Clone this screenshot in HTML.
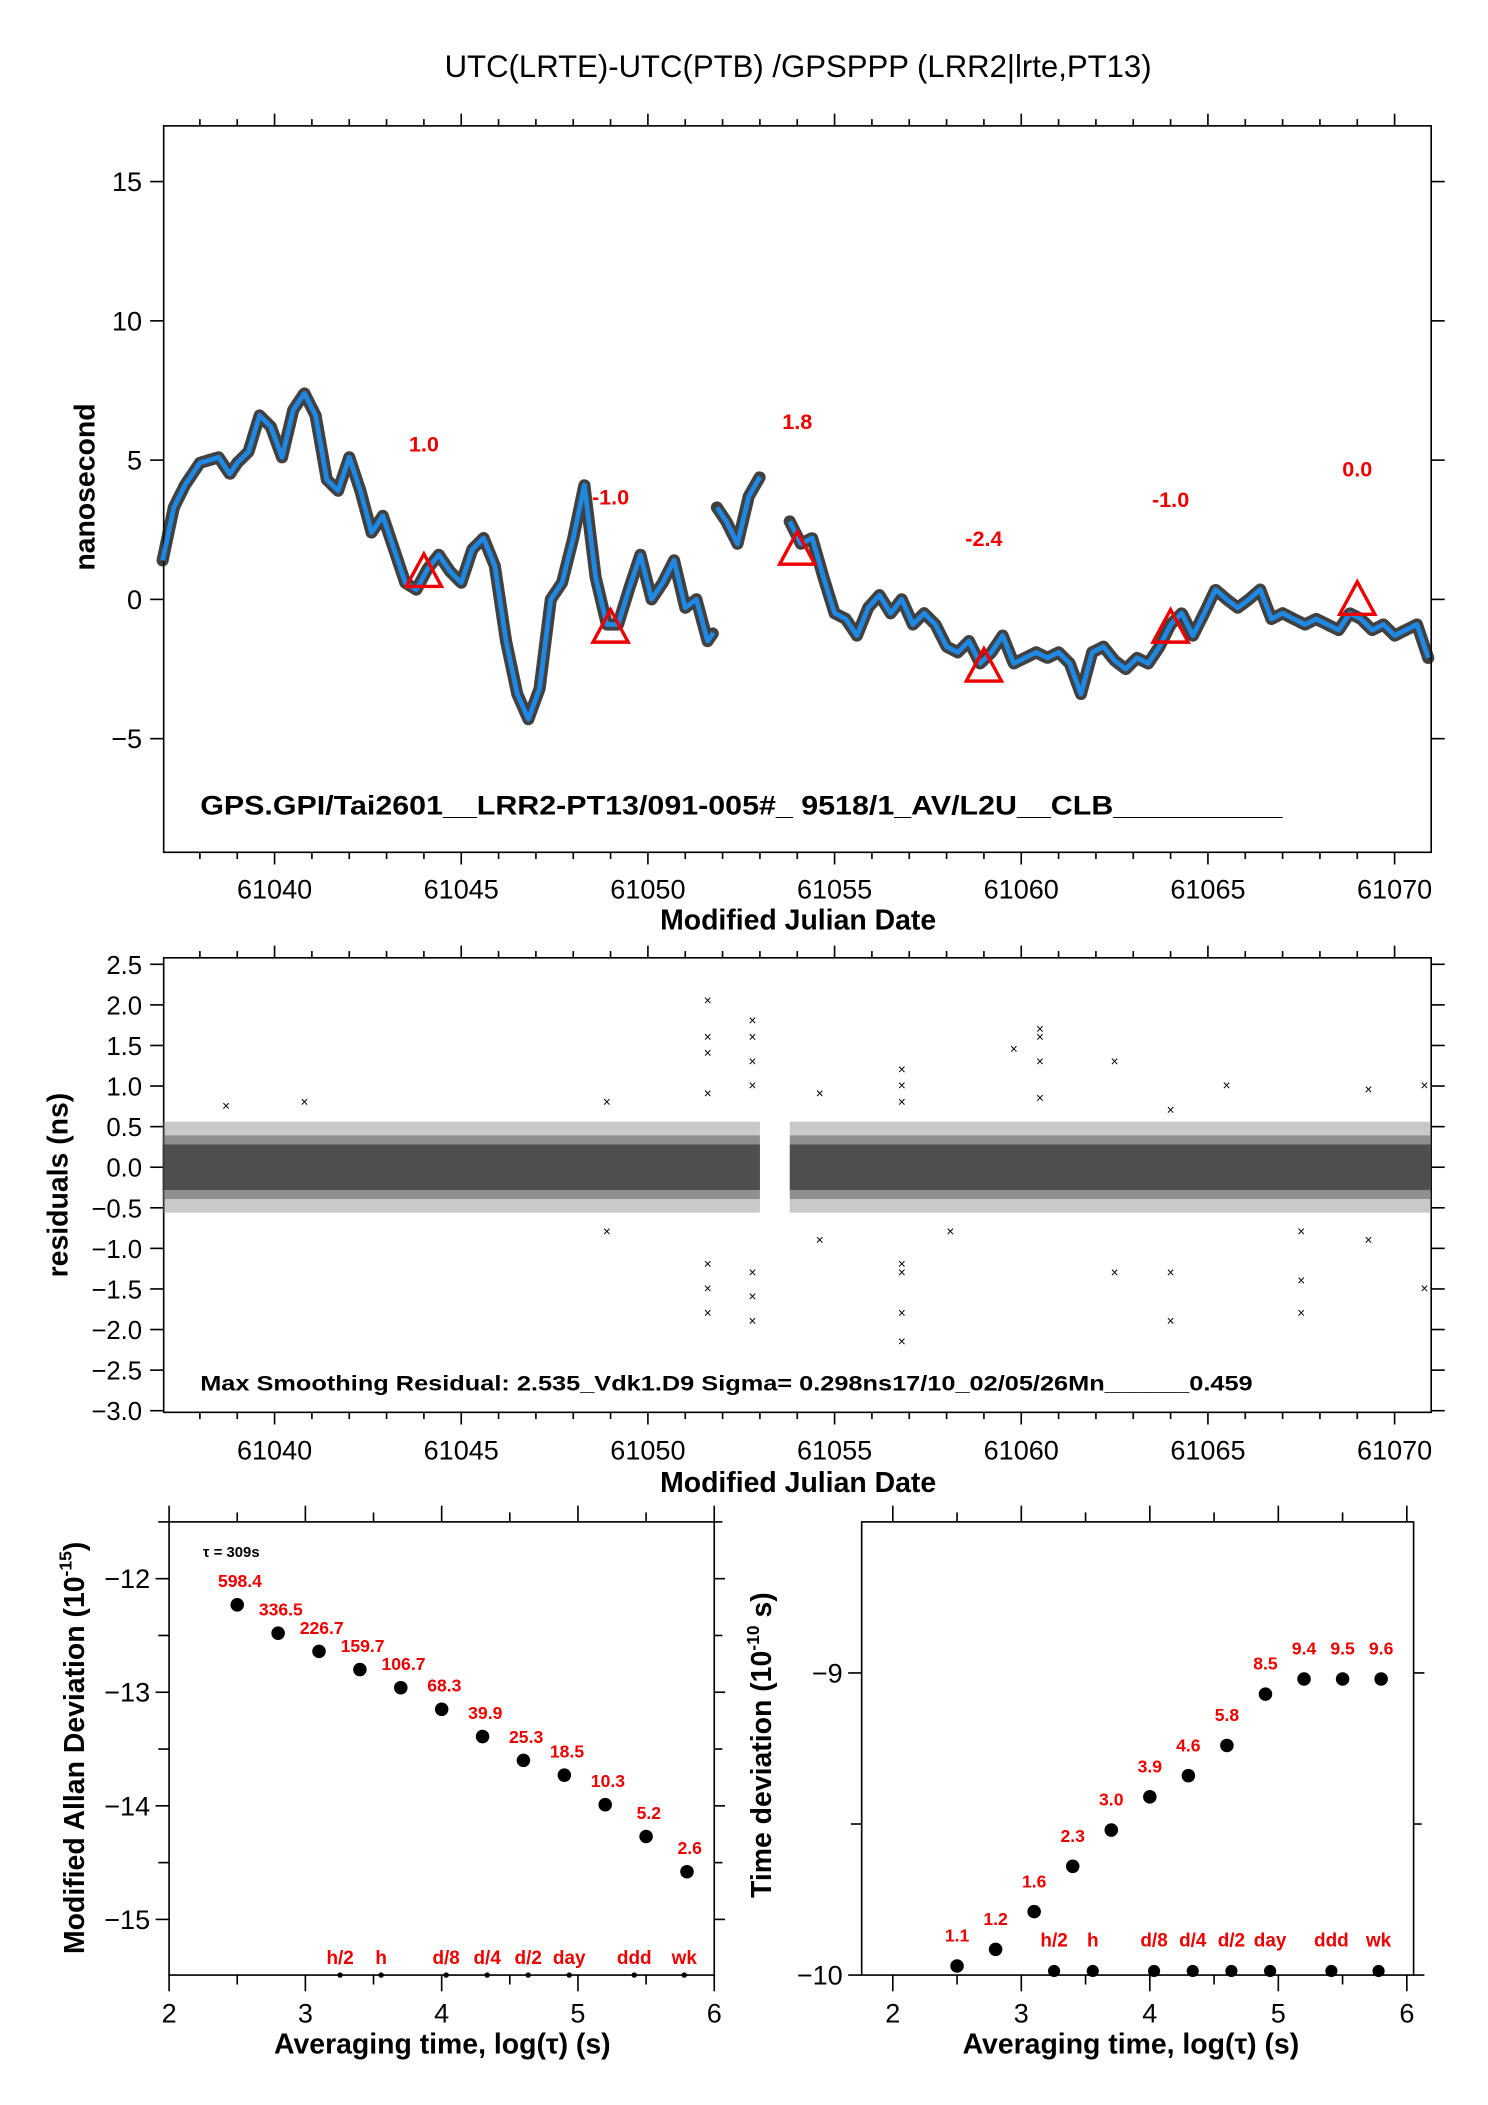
<!DOCTYPE html>
<html><head><meta charset="utf-8">
<style>
html,body{margin:0;padding:0;background:#fff;}
svg{display:block;font-family:"Liberation Sans",sans-serif;}
</style></head>
<body>
<svg id="chart" xmlns="http://www.w3.org/2000/svg" width="1488" height="2105" viewBox="0 0 1100 1556">
<rect x="0" y="0" width="1100" height="1556" fill="#fff"/>
<text x="590" y="57" font-size="23" text-anchor="middle">UTC(LRTE)-UTC(PTB)  /GPSPPP  (LRR2|lrte,PT13)</text>
<g id="g"></g>
</svg>
<script>
// ---------- data ----------
const smoothDays = [61037.0,61037.3,61037.6,61038.0,61038.5,61038.8,61039.0,61039.3,61039.6,61039.9,61040.2,61040.5,61040.8,61041.1,61041.4,61041.7,61042.0,61042.3,61042.6,61042.9,61043.2,61043.5,61043.8,61044.1,61044.4,61044.7,61045.0,61045.3,61045.6,61045.9,61046.2,61046.5,61046.8,61047.1,61047.4,61047.7,61048.0,61048.3,61048.6,61048.9,61049.2,61049.5,61049.8,61050.1,61050.4,61050.7,61051.0,61051.3,61051.6,61051.75,null,61051.85,61052.1,61052.4,61052.7,61053.0,null,61053.8,61054.1,61054.4,61054.7,61055.0,61055.3,61055.6,61055.9,61056.2,61056.5,61056.8,61057.1,61057.4,61057.7,61058.0,61058.3,61058.6,61058.9,61059.2,61059.5,61059.8,61060.1,61060.4,61060.7,61061.0,61061.3,61061.6,61061.9,61062.2,61062.5,61062.8,61063.1,61063.4,61063.7,61064.0,61064.3,61064.6,61064.9,61065.2,61065.5,61065.8,61066.1,61066.4,61066.7,61067.0,61067.3,61067.6,61067.9,61068.2,61068.5,61068.8,61069.1,61069.4,61069.7,61070.0,61070.3,61070.6,61070.9];
const smoothValues = [1.4,3.3,4.1,4.9,5.1,4.5,4.9,5.3,6.6,6.2,5.1,6.8,7.4,6.6,4.3,3.9,5.1,3.9,2.4,3.0,1.8,0.6,0.35,1.1,1.6,1.0,0.6,1.8,2.2,1.2,-1.5,-3.4,-4.3,-3.2,0.0,0.6,2.2,4.1,0.8,-0.9,-0.9,0.4,1.6,0.0,0.6,1.4,-0.3,0.0,-1.5,-1.2,null,3.3,2.8,2.0,3.7,4.4,null,2.8,2.0,2.2,0.8,-0.5,-0.7,-1.3,-0.3,0.15,-0.5,0.0,-0.9,-0.5,-0.9,-1.7,-1.9,-1.5,-2.3,-1.9,-1.3,-2.3,-2.1,-1.9,-2.1,-1.9,-2.3,-3.4,-1.9,-1.7,-2.2,-2.5,-2.1,-2.3,-1.7,-0.9,-0.5,-1.3,-0.5,0.35,0.0,-0.3,0.0,0.35,-0.7,-0.5,-0.7,-0.9,-0.7,-0.9,-1.1,-0.5,-0.7,-1.1,-0.9,-1.3,-1.1,-0.9,-2.1];
const triDays = [61044,61049,61054,61059,61064,61069];
const triValues = [1.0,-1.0,1.8,-2.4,-1.0,0.0];
const triLabels = ["1.0","-1.0","1.8","-2.4","-1.0","0.0"];
const triLabelY = [5.6,3.7,6.4,2.2,3.6,4.7];
const xTicksMJD = [61040,61045,61050,61055,61060,61065,61070];
const yTicksTop = [15,10,5,0,-5];
const yTicksResid = [2.5,2.0,1.5,1.0,0.5,0.0,-0.5,-1.0,-1.5,-2.0,-2.5,-3.0];
const residSegStart = [61037.0,61053.8];
const residSegEnd = [61053.0,61071.0];
const residBand = 0.28;
const outlierDays = [61051.6,61051.6,61051.6,61051.6,61051.6,61051.6,61052.8,61052.8,61052.8,61052.8,61052.8,61052.8,61056.8,61056.8,61056.8,61056.8,61056.8,61056.8,61060.5,61060.5,61060.5,61059.8,61062.5,61062.5,61064.0,61064.0,61067.5,61067.5,61070.8,61070.8,61048.9,61048.9,61054.6,61054.6,61058.1,61065.5,61069.3,61038.7,61040.8,61051.6,61052.8,61056.8,61060.5,61064.0,61067.5,61069.3];
const outlierValues = [2.05,1.6,1.4,-1.5,-1.8,-1.2,1.8,1.6,1.3,-1.3,-1.9,-1.6,1.2,1.0,-1.2,-1.3,-1.8,-2.15,1.7,1.6,1.3,1.45,1.3,-1.3,-1.3,-1.9,-1.4,-1.8,1.0,-1.5,0.8,-0.8,0.9,-0.9,-0.8,1.0,0.95,0.75,0.8,0.9,1.0,0.8,0.85,0.7,-0.8,-0.9];
const tauLog = [2.5,2.8,3.1,3.4,3.7,4.0,4.3,4.6,4.9,5.2,5.5,5.8];
const madevValues = [-12.23,-12.48,-12.64,-12.80,-12.96,-13.15,-13.39,-13.60,-13.73,-13.99,-14.27,-14.58];
const madevLabels = ["598.4","336.5","226.7","159.7","106.7","68.3","39.9","25.3","18.5","10.3","5.2","2.6"];
const tdevValues = [-9.97,-9.915,-9.79,-9.64,-9.52,-9.41,-9.34,-9.24,-9.07,-9.02,-9.02,-9.02];
const tdevLabels = ["1.1","1.2","1.6","2.3","3.0","3.9","4.6","5.8","8.5","9.4","9.5","9.6"];
const markerLog = [3.255,3.556,4.033,4.334,4.635,4.936,5.413,5.78];
const markerLabels = ["h/2","h","d/8","d/4","d/2","day","ddd","wk"];
const logTicks = [2,3,4,5,6];
const madevTicks = [-12,-13,-14,-15];
const tdevTicks = [-9,-10];

// ---------- helpers ----------
const NS="http://www.w3.org/2000/svg";
const G=document.getElementById('g');
function el(tag,attrs,parent){const e=document.createElementNS(NS,tag);for(const k in attrs)e.setAttribute(k,attrs[k]);(parent||G).appendChild(e);return e;}
function txt(s,attrs,parent){const e=el('text',attrs,parent);e.textContent=s;return e;}
function lin(d0,d1,r0,r1){return v=>r0+(v-d0)/(d1-d0)*(r1-r0);}

// ---------- top plot ----------
const P1={l:121,r:1058,t:93,b:630};
const X1=lin(61037.03,61070.98,P1.l,P1.r), Y1=lin(-9.08,17.0,P1.b,P1.t);
function frame(P,name){const r=el('rect',{x:P.l,y:P.t,width:P.r-P.l,height:P.b-P.t,fill:'none',stroke:'#000','stroke-width':1.2});}
function mjdTicks(P,X,yLab){
  for(let d=61037;d<=61071;d++){const x=X(d);if(x<P.l-0.5||x>P.r+0.5)continue;const L=(d%5===0)?9:5;
    el('line',{x1:x,y1:P.b,x2:x,y2:P.b+L,stroke:'#000','stroke-width':1.2});
    el('line',{x1:x,y1:P.t,x2:x,y2:P.t-L,stroke:'#000','stroke-width':1.2});}
  xTicksMJD.forEach(d=>{const t=txt(String(d),{x:X(d),y:yLab,'font-size':20,'text-anchor':'middle'});});
}
frame(P1,'top-plot-frame');
mjdTicks(P1,X1,664);
yTicksTop.forEach(v=>{const y=Y1(v);el('line',{x1:P1.l-10,y1:y,x2:P1.l,y2:y,stroke:'#000','stroke-width':1.2});el('line',{x1:P1.r,y1:y,x2:P1.r+10,y2:y,stroke:'#000','stroke-width':1.2});
  const t=txt(v<0?'\u2212'+Math.abs(v):String(v),{x:P1.l-16,y:y+7,'font-size':20,'text-anchor':'end'});});
let t=txt('nanosecond',{x:0,y:0,'font-size':21,'font-weight':'bold','text-anchor':'middle',transform:'translate(70,360) rotate(-90)'});

t=txt('Modified Julian Date',{x:590,y:687,'font-size':21,'font-weight':'bold','text-anchor':'middle'});

let dpath='',pen=false;
smoothDays.forEach((d,i)=>{if(d===null||smoothValues[i]===null){pen=false;return;}dpath+=(pen?'L':'M')+X1(d).toFixed(1)+','+Y1(smoothValues[i]).toFixed(1);pen=true;});
let p=el('path',{d:dpath,fill:'none',stroke:'#111','stroke-width':9,'stroke-linejoin':'round','stroke-linecap':'round',opacity:0.8,'stroke-dasharray':'3 1'});

p=el('path',{d:dpath,fill:'none',stroke:'#1e88e5','stroke-width':3.5,'stroke-linejoin':'round'});

triDays.forEach((d,i)=>{const x=X1(d),y=Y1(triValues[i]);
  const tr=el('polygon',{points:`${x-13},${y+11} ${x+13},${y+11} ${x},${y-13}`,fill:'none',stroke:'#e00','stroke-width':2.5});
  
  const l=txt(triLabels[i],{x:x,y:Y1(triLabelY[i])+6,'font-size':16,'font-weight':'bold',fill:'#e00','text-anchor':'middle'});
  });
t=txt('GPS.GPI/Tai2601__LRR2-PT13/091-005#_  9518/1_AV/L2U__CLB__________',{x:148,y:602,'font-size':20,'font-weight':'bold',textLength:800,lengthAdjust:'spacingAndGlyphs'});


// ---------- residual plot ----------
const P2={l:121,r:1058,t:708,b:1044};
const Y2=lin(-3.02,2.58,P2.b,P2.t);
frame(P2,'residual-plot-frame');
mjdTicks(P2,X1,1079);
yTicksResid.forEach(v=>{const y=Y2(v);el('line',{x1:P2.l-10,y1:y,x2:P2.l,y2:y,stroke:'#000','stroke-width':1.2});el('line',{x1:P2.r,y1:y,x2:P2.r+10,y2:y,stroke:'#000','stroke-width':1.2});
  const s=(v<0?'\u2212':'')+Math.abs(v).toFixed(1);
  const tt=txt(s,{x:P2.l-16,y:y+7,'font-size':19,'text-anchor':'end'});});
t=txt('residuals (ns)',{x:0,y:0,'font-size':21,'font-weight':'bold','text-anchor':'middle',transform:'translate(50,876) rotate(-90)'});

t=txt('Modified Julian Date',{x:590,y:1103,'font-size':21,'font-weight':'bold','text-anchor':'middle'});

residSegStart.forEach((s,i)=>{const x0=X1(s),x1=Math.min(X1(residSegEnd[i]),P2.r);
  let r=el('rect',{x:x0,y:Y2(residBand*2),width:x1-x0,height:Y2(-residBand*2)-Y2(residBand*2),fill:'#777',opacity:0.4});
  
  r=el('rect',{x:x0,y:Y2(residBand*1.4),width:x1-x0,height:Y2(-residBand*1.4)-Y2(residBand*1.4),fill:'#555',opacity:0.5});
  
  r=el('rect',{x:x0,y:Y2(residBand),width:x1-x0,height:Y2(-residBand)-Y2(residBand),fill:'#333',opacity:0.7});
  });
outlierDays.forEach((d,i)=>{const x=X1(d),y=Y2(outlierValues[i]);
  const o=txt('\u00d7',{x:x,y:y+3,'font-size':10,'text-anchor':'middle'});});
t=txt('Max Smoothing Residual: 2.535_Vdk1.D9  Sigma= 0.298ns17/10_02/05/26Mn______0.459',{x:148,y:1028,'font-size':16,'font-weight':'bold',textLength:778,lengthAdjust:'spacingAndGlyphs'});


// ---------- stability plots ----------
function stabPlot(P,X,Y,yTicks,yMinor,vals,labels,name,labOff,markY,markLabY){
  frame(P,name+'-frame');
  for(let v=2;v<=6.001;v+=0.5){const x=X(v);if(x<P.l-1||x>P.r+1)continue;const L=(Math.abs(v-Math.round(v))<1e-6)?12:7;
    el('line',{x1:x,y1:P.b,x2:x,y2:P.b+L,stroke:'#000','stroke-width':1.2});el('line',{x1:x,y1:P.t,x2:x,y2:P.t-L,stroke:'#000','stroke-width':1.2});}
  logTicks.forEach(v=>{const tt=txt(String(v),{x:X(v),y:1495,'font-size':20,'text-anchor':'middle'});});
  yMinor.forEach(v=>{const y=Y(v);el('line',{x1:P.l-8,y1:y,x2:P.l,y2:y,stroke:'#000','stroke-width':1.2});el('line',{x1:P.r,y1:y,x2:P.r+6,y2:y,stroke:'#000','stroke-width':1.2});});
  yTicks.forEach(v=>{const y=Y(v);el('line',{x1:P.l-10,y1:y,x2:P.l,y2:y,stroke:'#000','stroke-width':1.2});el('line',{x1:P.r,y1:y,x2:P.r+8,y2:y,stroke:'#000','stroke-width':1.2});
    const tt=txt('\u2212'+Math.abs(v),{x:P.l-14,y:y+7,'font-size':20,'text-anchor':'end'});});
  tauLog.forEach((v,i)=>{const x=X(v),y=Y(vals[i]);
    const c=el('circle',{cx:x,cy:y,r:5,fill:'#000'});
    const l=txt(labels[i],{x:x+labOff[0],y:y+labOff[1],'font-size':13,'font-weight':'bold',fill:'#e00','text-anchor':'middle'});
    });
  markerLog.forEach((v,i)=>{const x=X(v);
    const c=el('circle',{cx:x,cy:markY,r:markY>1458?2:4.5,fill:'#000'});
    const l=txt(markerLabels[i],{x:x,y:markLabY,'font-size':14,'font-weight':'bold',fill:'#e00','text-anchor':'middle'});
    });
}
const PA={l:125,r:528,t:1125,b:1460};
const XA=lin(2,6,125,528), YA=lin(-15.49,-11.5,PA.b,PA.t);
stabPlot(PA,XA,YA,madevTicks,[-12.5,-13.5,-14.5,-11.5],madevValues,madevLabels,'madev',[2,-13],1460,1452);
t=txt('\u03c4 = 309s',{x:150,y:1151,'font-size':11,'font-weight':'bold'});

t=el('text',{x:0,y:0,'font-size':21,'font-weight':'bold','text-anchor':'middle',transform:'translate(62,1292) rotate(-90)'});

t.innerHTML='Modified Allan Deviation (10<tspan font-size="13" dy="-9">-15</tspan><tspan dy="9">)</tspan>';
t=txt('Averaging time, log(\u03c4) (s)',{x:327,y:1518,'font-size':21,'font-weight':'bold','text-anchor':'middle'});


const PT={l:637,r:1045,t:1125,b:1460};
const XT=lin(2,6,660,1040), YT=lin(-10,-8.5,PT.b,PT.t);
stabPlot(PT,XT,YT,tdevTicks,[-9.5],tdevValues,tdevLabels,'tdev',[0,-18],1457,1439);
t=el('text',{x:0,y:0,'font-size':21,'font-weight':'bold','text-anchor':'middle',transform:'translate(570,1290) rotate(-90)'});

t.innerHTML='Time deviation (10<tspan font-size="13" dy="-9">-10</tspan><tspan dy="9"> s)</tspan>';
t=txt('Averaging time, log(\u03c4) (s)',{x:836,y:1518,'font-size':21,'font-weight':'bold','text-anchor':'middle'});

</script>
</body></html>
